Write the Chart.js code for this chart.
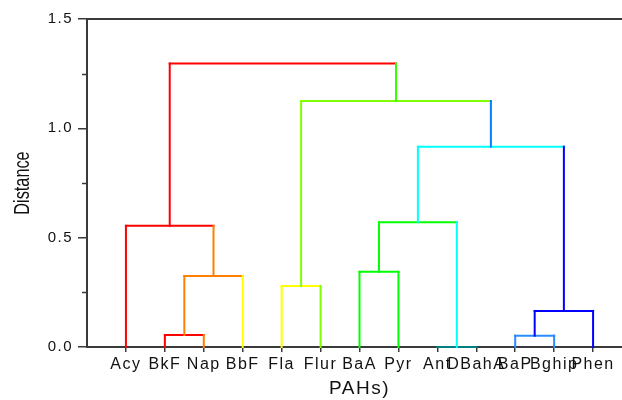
<!DOCTYPE html>
<html>
<head>
<meta charset="utf-8">
<script src="https://cdn.jsdelivr.net/npm/chart.js@4/dist/chart.umd.min.js"></script>
<style>
  html, body { margin: 0; padding: 0; background: #fff; overflow: hidden; }
  #wrap { width: 632px; height: 400px; }
</style>
</head>
<body>
<div id="wrap"><canvas id="c" width="632" height="400"></canvas></div>
<script>
// Leaves of the dendrogram, in display order
const leafLabels = ['Acy', 'BkF', 'Nap', 'BbF', 'Fla', 'Flur', 'BaA', 'Pyr', 'Ant', 'DBahA', 'BaP', 'Bghip', 'Phen'];

// Agglomeration steps: node 13+k joins mergeLeft[k] and mergeRight[k] at mergeHeight[k]
const mergeLeft   = [8, 1, 10, 15, 4, 14, 6, 0, 19, 21, 17, 20];
const mergeRight  = [9, 2, 11, 12, 5, 3, 7, 18, 13, 16, 22, 23];
const mergeHeight = [0.0, 0.055, 0.052, 0.165, 0.279, 0.325, 0.344, 0.554, 0.571, 0.916, 1.125, 1.296];

// Y axis ticks
const majorTicks = [0, 0.5, 1.0, 1.5];
const minorTicks = [0.25, 0.75, 1.25];

// Axis titles
const xTitle = 'PAHs)';
const yTitle = 'Distance';

// Colour of the vertical stem rising from each node (leaves 0-12, clusters 13-23)
const stemColor = [
  '#ff0000', '#ff0000', '#ff8000', '#ffff00', '#ffff00', '#80ff00', '#00ff00',
  '#00ff00', '#008080', '#008080', '#2a8cff', '#2a8cff', '#0000ff',
  '#00ffff', '#ff8000', '#0000ff', '#0000ff', '#80ff00', '#ff8000',
  '#00ff00', '#ff0000', '#00ffff', '#0080ff', '#33ff00'
];
// Colour of the horizontal bar of each merge
const barColor = [
  '#008080', '#ff0000', '#2a8cff', '#0000ff', '#ffff00', '#ff8000',
  '#00ff00', '#ff0000', '#00ff00', '#00ffff', '#80ff00', '#ff0000'
];

// Node x positions (leaf i sits at i+1) and heights
const nodeX = leafLabels.map((_, i) => i + 1);
const nodeH = leafLabels.map(() => 0);
mergeLeft.forEach((l, k) => {
  const r = mergeRight[k];
  nodeX.push((nodeX[l] + nodeX[r]) / 2);
  nodeH.push(mergeHeight[k]);
});

function seg(a, b, color) {
  return {
    data: [a, b],
    borderColor: color,
    borderWidth: 2,
    pointRadius: 0,
    pointHoverRadius: 0,
    fill: false,
    tension: 0,
    clip: false,
    borderCapStyle: 'square'
  };
}

const datasets = [];
mergeLeft.forEach((l, k) => {
  const r = mergeRight[k];
  const h = mergeHeight[k];
  datasets.push(seg({ x: nodeX[l], y: nodeH[l] }, { x: nodeX[l], y: h }, stemColor[l]));
  datasets.push(seg({ x: nodeX[r], y: nodeH[r] }, { x: nodeX[r], y: h }, stemColor[r]));
});
mergeLeft.forEach((l, k) => {
  const r = mergeRight[k];
  const h = mergeHeight[k];
  datasets.push(seg({ x: nodeX[l], y: h }, { x: nodeX[r], y: h }, barColor[k]));
});

const AXIS = '#3a3a3a';
const TEXT = '#111111';
const FONT = "'Liberation Sans', Arial, sans-serif";

const spacing = {
  id: 'spacing',
  beforeLayout(chart) { chart.ctx.letterSpacing = '1.5px'; },
  beforeDraw(chart) { chart.ctx.letterSpacing = '1.5px'; }
};

const frame = {
  id: 'frame',
  afterDraw(chart) {
    const { ctx, chartArea, scales } = chart;
    ctx.save();
    ctx.strokeStyle = AXIS;
    // top border of the frame
    ctx.lineWidth = 2;
    ctx.beginPath();
    ctx.moveTo(chartArea.left, chartArea.top);
    ctx.lineTo(chartArea.right, chartArea.top);
    ctx.stroke();
    // minor ticks on the distance axis
    ctx.lineWidth = 1.5;
    minorTicks.forEach(v => {
      const y = Math.round(scales.y.getPixelForValue(v)) + 0.5;
      ctx.beginPath();
      ctx.moveTo(chartArea.left - 5, y);
      ctx.lineTo(chartArea.left, y);
      ctx.stroke();
    });
    // condensed vertical title of the distance axis
    const cy = (scales.y.getPixelForValue(0) + scales.y.getPixelForValue(1.5)) / 2;
    ctx.translate(23, cy);
    ctx.rotate(-Math.PI / 2);
    ctx.scale(0.74, 1);
    ctx.letterSpacing = '0px';
    ctx.fillStyle = TEXT;
    ctx.font = '22px ' + FONT;
    ctx.textAlign = 'center';
    ctx.textBaseline = 'middle';
    ctx.fillText(yTitle, 0, 0);
    ctx.restore();
  }
};

new Chart(document.getElementById('c'), {
  type: 'line',
  data: { datasets },
  options: {
    responsive: false,
    animation: false,
    events: [],
    layout: { padding: { top: 19, right: 0, left: 0, bottom: 0 } },
    plugins: { legend: { display: false }, tooltip: { enabled: false } },
    scales: {
      x: {
        type: 'linear',
        min: 0,
        max: leafLabels.length + 1,
        afterBuildTicks(scale) { scale.ticks = nodeX.slice(0, leafLabels.length).map(v => ({ value: v })); },
        afterFit(scale) { scale.height = 53; },
        ticks: {
          autoSkip: false,
          maxRotation: 0,
          color: TEXT,
          font: { family: FONT, size: 16 },
          padding: 3,
          callback: v => leafLabels[v - 1]
        },
        grid: { drawOnChartArea: false, drawTicks: true, tickLength: 5, color: AXIS, lineWidth: 1.5 },
        border: { color: AXIS, width: 2 },
        title: { display: true, text: xTitle, color: TEXT, font: { family: FONT, size: 19 }, padding: { top: 3, bottom: 0 } }
      },
      y: {
        min: 0,
        max: 1.5,
        afterBuildTicks(scale) { scale.ticks = majorTicks.map(v => ({ value: v })); },
        afterFit(scale) { scale.width = 87; },
        ticks: {
          color: TEXT,
          font: { family: FONT, size: 15 },
          padding: 5,
          callback: v => v.toFixed(1)
        },
        grid: { drawOnChartArea: false, drawTicks: true, tickLength: 9, color: AXIS, lineWidth: 1.5 },
        border: { color: AXIS, width: 2 },
        title: { display: false }
      }
    }
  },
  plugins: [spacing, frame]
});
</script>
</body>
</html>
